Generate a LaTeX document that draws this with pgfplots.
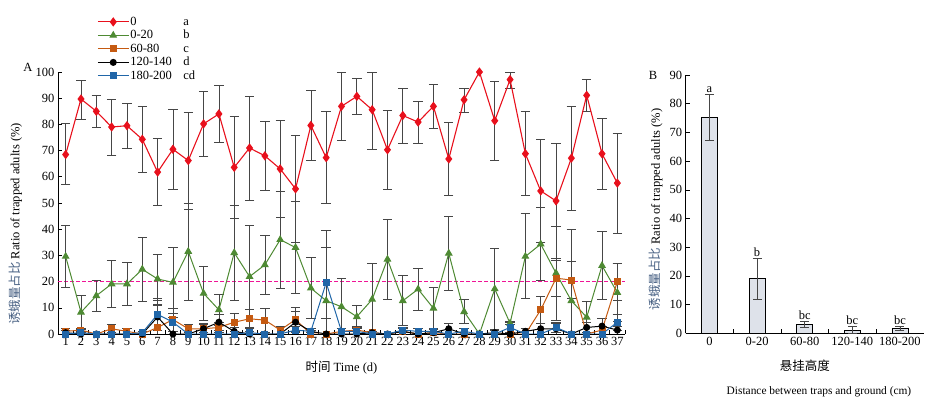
\documentclass[border=0pt]{standalone}
\usepackage{pgfplots}
\pgfplotsset{compat=1.18}
\usepackage{pgfplotstable}
\usepackage{fontspec}
\setmainfont{Liberation Serif}
\newfontfamily\cjk{Noto Sans CJK SC}
\definecolor{cred}{RGB}{232,16,28}
\definecolor{cgreen}{RGB}{78,138,51}
\definecolor{corange}{RGB}{197,90,17}
\definecolor{cblue}{RGB}{32,102,168}
\definecolor{errgray}{RGB}{70,70,70}
\definecolor{dashpink}{RGB}{240,20,150}
\definecolor{cjkblue}{RGB}{70,95,130}
\definecolor{barfill}{RGB}{222,226,234}

\pgfplotstableread{
x y ep em
1 68.5 11.8 11.5
2 89.7 7.3 7.7
3 85 6 6
4 79 10.5 11
5 79.5 8.5 8.5
6 74.3 12.5 12.5
7 61.8 12.7 12.7
8 70.5 15.3 15.3
9 66.2 18.5 18.5
10 80.2 12.3 12.3
11 84 11 11
12 63.6 19.5 19.5
13 71 19.8 19.8
14 68 13.2 13.2
15 63 18.5 18.5
16 55.4 20.3 20.3
17 79.6 13.5 13.5
18 67.3 17.6 17.6
19 86.9 13 13
20 90.7 6.7 6.7
21 85.6 14.4 15
22 70.3 15 15
23 83.4 10.5 10.5
24 80.9 8 8
25 86.9 8.5 8.5
26 66.8 13.9 13.9
27 89.4 4.3 4.7
28 100 0 0
29 81.4 15 15
30 97.1 2.9 3.2
31 68.8 16 16
32 54.6 19.8 19.8
33 50.8 22 22
34 67.1 19.8 19.8
35 91.1 6.2 6.2
36 68.8 13.4 13.4
37 57.6 19 19
}\redtab

\pgfplotstableread{
x y ep em
1 29.6 11.7 11.7
2 8.3 6.6 6.6
3 14.6 6 6
4 19.1 9.2 9
5 19.1 8.2 8
6 24.7 12.1 12.1
7 21 9.5 9.5
8 19.7 13.3 13.3
9 31.5 18.5 18.5
10 15.5 10.2 10.2
11 9.2 5.8 5.8
12 31 18 18
13 21.9 19.5 19.5
14 26.4 11.4 11.4
15 36 18.5 18.5
16 33 17.5 17.5
17 17.5 11.7 11.7
18 12.7 27 12.7
19 10.4 10.9 10.4
20 6.6 4.2 4
21 13.2 13.6 13.2
22 28.5 15.3 15.3
23 12.7 9.5 9.5
24 17.1 8 8
25 9.8 8 8
26 30.8 14 14
27 8.5 4.7 4.5
28 0 0 0
29 17.2 15.5 15.5
30 4.1 0.6 0.6
31 29.6 16.5 16
32 34.3 14 14
33 23.2 18 18
34 12.7 27.3 12.7
35 6.4 6 6.4
36 26.1 13 13
37 15.8 11 11
}\greentab

\pgfplotstableread{
x y ep em
1 1.0 1.2 1.0
2 1.5 0.8 0.8
3 0 0 0
4 2.0 1.5 1.5
5 1.0 1.0 1.0
6 0 0 0
7 2.5 8.5 2.5
8 5.5 4.3 4.3
9 2.0 1.5 1.5
10 2.0 1.5 1.5
11 2.5 2.0 2.0
12 4.5 3.5 3.5
13 5.8 3.5 3.5
14 5.3 4.5 4.5
15 1.5 1.5 1.5
16 5.5 4.5 4.5
17 0 0 0
18 0 0 0
19 1.0 1.0 1.0
20 1.5 1.5 1.5
21 0.5 0.5 0.5
22 0 0 0
23 1.0 1.0 1.0
24 0 0 0
25 0.5 0.5 0.5
26 0 0 0
27 0 0 0
28 0 0 0
29 0 0 0
30 0 0 0
31 0 0 0
32 9.2 5 5
33 21.3 7 7
34 20.6 7 7
35 0 0 0
36 1.5 1.5 1.5
37 20 7 7
}\orangetab

\pgfplotstableread{
x y ep em
1 0.5 1.0 0.5
2 0 0 0
3 0 0 0
4 0 0.5 0
5 0 0 0
6 0 0 0
7 6.5 6.5 6.5
8 0 0 0
9 0 0 0
10 2.0 2.0 2.0
11 4.5 3.0 3.0
12 1.0 1.5 1.0
13 0 0 0
14 0 0 0
15 0 0 0
16 4.5 4.0 4.0
17 1.0 0.5 0.5
18 0 0 0
19 0 0 0
20 0 0 0
21 0.5 0.5 0.5
22 0 0 0
23 1.0 1.0 1.0
24 0 0 0
25 0.5 0.5 0.5
26 2.0 2.0 2.0
27 0 0 0
28 0 0 0
29 0.5 1.0 0.5
30 0 0 0
31 1.0 1.0 1.0
32 2.0 2.0 2.0
33 2.0 2.0 2.0
34 0 0 0
35 2.5 2.0 2.0
36 3.0 3.0 3.0
37 1.5 1.5 1.5
}\blacktab

\pgfplotstableread{
x y ep em
1 0 0 0
2 0.5 0.5 0.5
3 0 0 0
4 0 0 0
5 0 0 0
6 0.5 0.5 0.5
7 7.5 6.0 6.0
8 4.5 3.4 3.4
9 0 0 0
10 0 0 0
11 0 0 0
12 0 0 0
13 0.5 0.5 0.5
14 0 0 0
15 0 0 0
16 1.5 1.5 1.5
17 1.0 1.0 1.0
18 19.6 13.6 13.6
19 1.0 1.0 1.0
20 1.0 1.0 1.0
21 0 0 0
22 0 0 0
23 1.5 1.0 1.0
24 1.0 1.0 1.0
25 1.0 1.0 1.0
26 0 0 0
27 1.0 1.0 1.0
28 0 0 0
29 0 0 0
30 2.5 2.0 2.0
31 0 0 0
32 0 0 0
33 2.5 2.0 2.0
34 0 0 0
35 0 0 0
36 0 0 0
37 4.5 3.0 3.0
}\bluetab

\pgfplotstableread{
x y ep em
0 75.2 8 8
1 19.0 7 7
2 3.1 0.9 0.9
3 1.0 1.3 1.0
4 1.7 0.6 0.6
}\bartab

\pgfplotstableread{
x y
0.5 20
37.5 20
}\reftab

\begin{document}
\begin{tikzpicture}
\useasboundingbox (0bp,0bp) rectangle (937bp,398bp);
\pgfplotsset{
  every axis/.append style={
    scale only axis,
    axis lines*=left,
    axis line style={black, line width=0.7pt},
    tick align=inside,
    major tick length=4bp,
    minor tick length=4bp,
    tick style={black, line width=0.6pt},
    tick label style={font=\fontsize{12.5bp}{14bp}\selectfont},
    label style={font=\fontsize{12.5bp}{14bp}\selectfont},
    /pgf/number format/assume math mode=true,
  },
  errbars/.style={draw=none, mark=none, forget plot,
    restrict expr to domain={\thisrow{ep}+\thisrow{em}}{0.01:1000},
    error bars/.cd, y dir=both, y explicit,
    error bar style={errgray, line width=0.7pt},
    error mark options={rotate=90, mark size=4.7bp, errgray, line width=0.7pt}},
}
% Panel A
\begin{axis}[
  at={(58bp,64bp)}, anchor=south west,
  width=567bp, height=262bp,
  xmin=0.5, xmax=37.5, ymin=0, ymax=100,
  ytick={0,10,...,100},
  xtick={0.5,1.5,...,37.5}, xticklabels={},
  extra x ticks={1,...,37},
  extra x tick style={major tick length=0pt},
  xlabel={{\cjk 时间} Time (d)},
  xlabel style={at={(axis description cs:0.5,-0.13)}, anchor=center},
  ylabel={{\cjk\color{cjkblue}诱蛾量占比} Ratio of trapped adults (\%)},
  ylabel style={at={(axis description cs:-0.075,0.42)}, anchor=center},
  legend style={draw=none, fill=none, inner sep=0pt, row sep=0pt,
    at={(axis description cs:0.0688,1.2176)}, anchor=north west,
    nodes={inner sep=1pt, text height=9bp, text depth=2.5bp, font=\fontsize{12.5bp}{14bp}\selectfont}},
  legend cell align=left,
  legend image code/.code={\draw[mark repeat=2, mark phase=2, #1] plot coordinates {(0bp,0bp) (15.5bp,0bp) (31bp,0bp)};},
]
\addplot[color=dashpink, no marks, line width=1.2pt, dash pattern=on 4bp off 2bp, forget plot] table[x=x, y=y] {\reftab};
\addplot[errbars] table[x=x, y=y, y error plus=ep, y error minus=em] {\redtab};
\addplot[errbars] table[x=x, y=y, y error plus=ep, y error minus=em] {\greentab};
\addplot[errbars] table[x=x, y=y, y error plus=ep, y error minus=em] {\orangetab};
\addplot[errbars] table[x=x, y=y, y error plus=ep, y error minus=em] {\blacktab};
\addplot[errbars] table[x=x, y=y, y error plus=ep, y error minus=em] {\bluetab};
\addplot[cred, line width=1.1pt, mark=diamond*, mark size=3.8bp, mark options={solid, fill=cred}] table[x=x, y=y] {\redtab};
\addlegendentry{\makebox[53bp][l]{0}a}
\addplot[cgreen, line width=1pt, mark=triangle*, mark size=3.6bp, mark options={solid, fill=cgreen}] table[x=x, y=y] {\greentab};
\addlegendentry{\makebox[53bp][l]{0-20}b}
\addplot[corange, line width=1pt, mark=square*, mark size=3bp, mark options={solid, fill=corange}] table[x=x, y=y] {\orangetab};
\addlegendentry{\makebox[53bp][l]{60-80}c}
\addplot[black, line width=1pt, mark=*, mark size=3bp, mark options={solid, fill=black}] table[x=x, y=y] {\blacktab};
\addlegendentry{\makebox[53bp][l]{120-140}d}
\addplot[cblue, line width=1pt, mark=square*, mark size=3bp, mark options={solid, fill=cblue}] table[x=x, y=y] {\bluetab};
\addlegendentry{\makebox[53bp][l]{180-200}cd}
\end{axis}
\node[font=\fontsize{12.5bp}{14bp}\selectfont] at (28bp,331bp) {A};
% Panel B
\begin{axis}[
  at={(685.7bp,64.7bp)}, anchor=south west,
  width=238bp, height=258.3bp,
  clip=false,
  xmin=-0.5, xmax=4.5, ymin=0, ymax=90,
  ytick={0,10,...,90},
  xtick={0.5,1.5,2.5,3.5}, xticklabels={},
  extra x ticks={0,1,2,3,4},
  extra x tick labels={0,0-20,60-80,120-140,180-200},
  extra x tick style={major tick length=0pt},
  ylabel={{\cjk\color{cjkblue}诱蛾量占比} Ratio of trapped adults (\%)},
  ylabel style={at={(axis description cs:-0.125,0.479)}, anchor=center},
]
\addplot[ybar, bar width=16bp, fill=barfill, draw=black, line width=0.6pt,
  error bars/.cd, y dir=both, y explicit,
  error bar style={errgray, line width=0.7pt},
  error mark options={rotate=90, mark size=4.5bp, errgray, line width=0.7pt}]
  table[x=x, y=y, y error plus=ep, y error minus=em] {\bartab};
\node[anchor=south, inner sep=2bp, font=\fontsize{12.5bp}{14bp}\selectfont] at (axis cs:0,83.2) {a};
\node[anchor=south, inner sep=2bp, font=\fontsize{12.5bp}{14bp}\selectfont] at (axis cs:1,26) {b};
\node[anchor=south, inner sep=2bp, font=\fontsize{12.5bp}{14bp}\selectfont] at (axis cs:2,4.0) {bc};
\node[anchor=south, inner sep=2bp, font=\fontsize{12.5bp}{14bp}\selectfont] at (axis cs:3,2.3) {bc};
\node[anchor=south, inner sep=2bp, font=\fontsize{12.5bp}{14bp}\selectfont] at (axis cs:4,2.3) {bc};
\node[font=\fontsize{12.5bp}{14bp}\selectfont] at (axis description cs:0.501,-0.127) {\cjk 悬挂高度};
\node[font=\fontsize{11.4bp}{13bp}\selectfont] at (axis description cs:0.56,-0.228) {Distance between traps and ground (cm)};
\end{axis}
\node[font=\fontsize{12.5bp}{14bp}\selectfont] at (653bp,323bp) {B};
\end{tikzpicture}
\end{document}
